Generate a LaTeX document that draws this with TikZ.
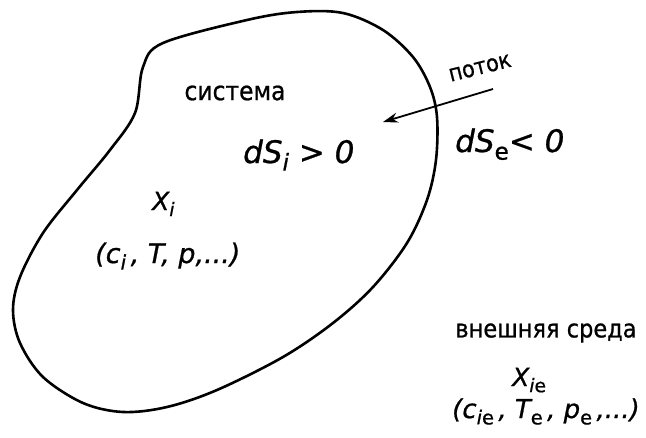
\documentclass[tikz,border=0pt]{standalone}
\usepackage{fontspec}
\usepackage{graphicx}
\setmainfont[FakeBold=0.8]{DejaVu Sans}
\newfontfamily\labfont[FakeStretch=0.9,FakeBold=0.8]{DejaVu Sans}
\usetikzlibrary{arrows.meta}
\newcommand\sbx[1]{\raisebox{-0.45ex}{\scalebox{0.75}{#1}}}
\tikzset{
  outline/.style={line width=2.6pt, line join=round},
  cyr/.style={inner sep=0pt, font=\labfont\fontsize{25}{25}\selectfont},
  formula/.style={inner sep=0pt, font=\itshape\fontsize{26}{26}\selectfont},
  flow/.style={line width=1.8pt, -{Stealth[length=15pt,width=10pt]}}
}
\begin{document}
\begin{tikzpicture}[x=1pt,y=-1pt]
\useasboundingbox (0,0) rectangle (646,437);
\fill[white] (0,0) rectangle (646,437);
% system boundary
\draw[outline] plot[smooth cycle, tension=0.55] coordinates {
  (143,67) (163,43) (247,20) (297,12) (343,13) (383,30) (413,57) (430,87)
  (437,117) (436,160) (427,200) (407,243) (373,287) (333,323) (283,357)
  (217,390) (167,407) (123,412) (83,403) (43,377) (20,343) (13,310)
  (20,277) (43,233) (77,190) (110,150) (135,113)};
% labels
\node[cyr, font=\labfont\fontsize{26}{26}\selectfont] (sys) at (235,93) {система};
\node[cyr, rotate=14, font=\labfont\fontsize{23}{23}\selectfont] (flowlab) at (480,68) {поток};
\node[formula, anchor=base west, font=\itshape\fontsize{31}{31}\selectfont] (dsi) at (243,163) {dS\sbx{\itshape i} > 0};
\node[formula, anchor=base west, font=\itshape\fontsize{31}{31}\selectfont] (dse) at (455,152) {dS\sbx{\upshape e}< 0};
\node[formula, anchor=base west, font=\itshape\fontsize{25}{25}\selectfont] (xi) at (152,210) {X\sbx{i}};
\node[formula, anchor=base west, font=\itshape\fontsize{27}{27}\selectfont] (pi) at (95,263) {(c\sbx{i}\,, T, p,...)};
\node[cyr] (env) at (546,333) {внешняя среда};
\node[formula, anchor=base west, font=\itshape\fontsize{25}{25}\selectfont] (xie) at (512,386) {X\sbx{i\upshape e}};
\node[formula, anchor=base west] (pe) at (452,418) {(c\sbx{i\upshape e}\,, T\sbx{\upshape e}\,, p\sbx{\upshape e}\,,...)};
% flow arrow
\coordinate (tail) at (493,89);
\coordinate (tip) at (383,122);
\draw[flow] (tail) -- (tip);
\end{tikzpicture}
\end{document}
